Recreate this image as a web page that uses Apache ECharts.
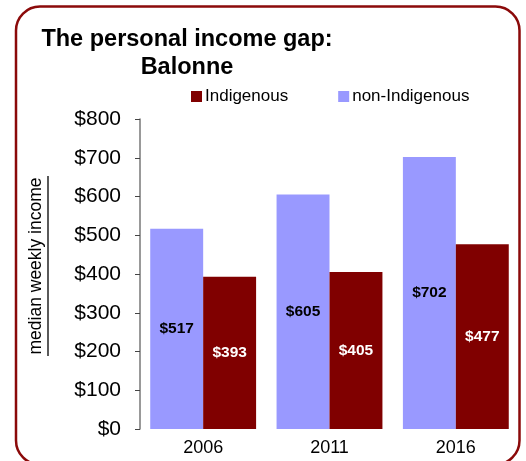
<!DOCTYPE html>
<html><head><meta charset="utf-8">
<script src="https://cdn.jsdelivr.net/npm/echarts@6/dist/echarts.min.js"></script>
<style>html,body{margin:0;padding:0;background:#fff}#c{width:526px;height:461px}</style>
</head><body><div id="c"></div>
<script>
const categories = ['2006', '2011', '2016'];
const nonIndigenous = [517, 605, 702];
const indigenous = [393, 405, 477];
const yTicks = [0, 100, 200, 300, 400, 500, 600, 700, 800];

const chart = echarts.init(document.getElementById('c'), null, {renderer: 'canvas'});
const sans = '"Liberation Sans", Arial, sans-serif';
chart.setOption({
  animation: false,
  title: {
    text: 'The personal income gap:\nBalonne',
    left: 182, top: 20, textAlign: 'center',
    textStyle: {fontFamily: sans, fontSize: 23.5, fontWeight: 'bold', lineHeight: 28.5, color: '#000'}
  },
  legend: {
    data: ['Indigenous', 'non-Indigenous'],
    left: 191, top: 88, padding: 0, itemWidth: 11, itemHeight: 11, itemGap: 50,
    icon: 'rect',
    textStyle: {fontFamily: sans, fontSize: 17, color: '#000', padding: [0, 0, 0, -2]}
  },
  grid: {left: 140, right: 7, top: 119, bottom: 32, containLabel: false},
  xAxis: {
    type: 'category', data: categories,
    axisLine: {show: false}, axisTick: {show: false},
    axisLabel: {fontFamily: sans, fontSize: 18, color: '#000', margin: 10}
  },
  yAxis: {
    type: 'value', min: yTicks[0], max: yTicks[yTicks.length - 1], interval: 100,
    splitLine: {show: false},
    axisLine: {show: true, lineStyle: {color: '#777', width: 1.5}},
    axisTick: {show: true, length: 5, lineStyle: {color: '#444'}},
    axisLabel: {fontFamily: sans, fontSize: 21, color: '#000', margin: 19,
      formatter: v => '$' + v}
  },
  series: [
    {name: 'non-Indigenous', type: 'bar', data: nonIndigenous, barGap: '0%', barCategoryGap: '16.2%',
      itemStyle: {color: '#9999FF'},
      label: {show: true, position: 'inside', formatter: p => '$' + p.value,
        fontFamily: sans, fontWeight: 'bold', fontSize: 15.5, color: '#000'}},
    {name: 'Indigenous', type: 'bar', data: indigenous, barGap: '0%', barCategoryGap: '16.2%',
      itemStyle: {color: '#800000'},
      label: {show: true, position: 'inside', formatter: p => '$' + p.value,
        fontFamily: sans, fontWeight: 'bold', fontSize: 15.5, color: '#fff'}}
  ],
  graphic: [
    {type: 'rect', shape: {x: 16, y: 6.5, width: 503.5, height: 458, r: 24}, silent: true,
      style: {fill: 'none', stroke: '#8B0A0A', lineWidth: 2.5}},
    {type: 'text', x: 36, y: 266, rotation: Math.PI / 2,
      style: {text: 'median weekly income', fontFamily: sans, fontSize: 17.5,
        fill: '#000', textAlign: 'center', textVerticalAlign: 'middle'}},
    {type: 'line', shape: {x1: 48, y1: 176, x2: 48, y2: 356}, silent: true,
      style: {stroke: '#000', lineWidth: 1.3}}
  ]
});
</script></body></html>
